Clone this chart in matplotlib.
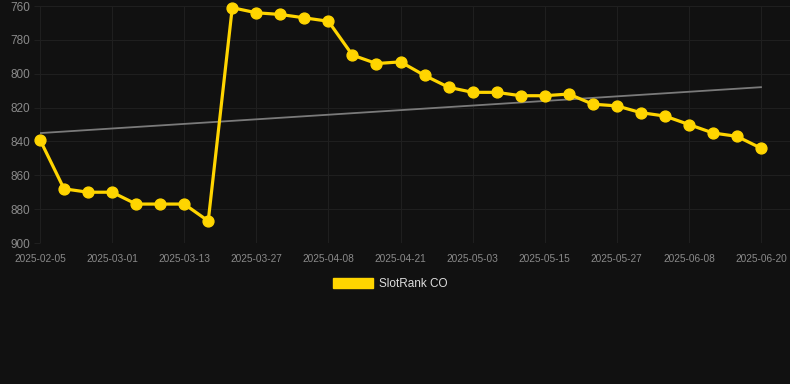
import numpy as np
import matplotlib
matplotlib.use("Agg")
import matplotlib.pyplot as plt
from matplotlib.patches import Patch

# ---------------------------------------------------------------------------
# Data
# ---------------------------------------------------------------------------
rank = [839, 868, 870, 870, 877, 877, 877, 887,
        761, 764, 765, 767, 769, 789, 794, 793,
        801, 808, 811, 811, 813, 813, 812, 818,
        819, 823, 825, 830, 835, 837, 844]

tick_labels = ["2025-02-05", "2025-03-01", "2025-03-13", "2025-03-27",
               "2025-04-08", "2025-04-21", "2025-05-03", "2025-05-15",
               "2025-05-27", "2025-06-08", "2025-06-20"]
series_name = "SlotRank CO"

# ---------------------------------------------------------------------------
# Styling
# ---------------------------------------------------------------------------
bg = "#111111"
grid_col = "#1f1f1f"
tick_col = "#8a8a8a"
yellow = "#FFD500"

plt.rcParams["font.family"] = ["Liberation Sans", "DejaVu Sans"]

x = np.arange(len(rank))
slope, icpt = np.polyfit(x, rank, 1)
trend = slope * x + icpt

fig = plt.figure(figsize=(7.9, 3.84), dpi=100, facecolor=bg)
ax = fig.add_axes([40 / 790, 1 - 243 / 384, 750 / 790, 237 / 384])
ax.set_facecolor(bg)

ax.plot(x[[0, -1]], trend[[0, -1]], color="#7a7a7a", linewidth=1.3, zorder=2)
ax.plot(x, rank, color=yellow, linewidth=2.3, marker="o", markersize=7.8,
        clip_on=False, zorder=3)

ax.set_xlim(0, 30 * 750 / 721)
ax.set_ylim(900, 760)
ax.set_yticks(np.arange(760, 901, 20))
ax.set_xticks(x[::3])
ax.set_xticklabels(tick_labels)

ax.grid(True, color=grid_col, linewidth=0.8)
ax.set_axisbelow(True)
for s in ax.spines.values():
    s.set_visible(False)

ax.tick_params(axis="y", colors=grid_col, labelcolor=tick_col, labelsize=8.5,
               length=4, width=0.8, pad=3)
ax.tick_params(axis="x", colors=grid_col, labelcolor=tick_col, labelsize=7.3,
               length=0, pad=8)

fig.legend(handles=[Patch(facecolor=yellow, edgecolor=yellow, label=series_name)],
           loc="center", bbox_to_anchor=(390 / 790, 1 - 284 / 384),
           frameon=False, fontsize=8.5, labelcolor="#dddddd",
           handlelength=3.4, handleheight=1.0, handletextpad=0.5)

fig.savefig("out.png", dpi=100, facecolor=bg)
